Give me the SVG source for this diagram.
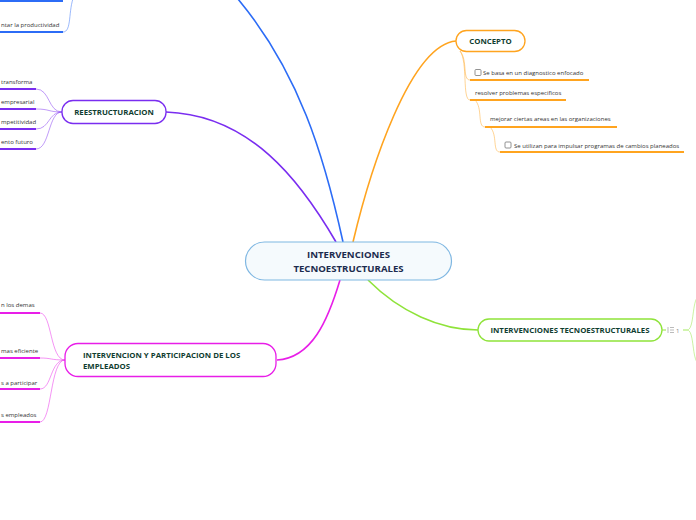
<svg xmlns="http://www.w3.org/2000/svg" width="696" height="520" viewBox="0 0 696 520">
<style>
.t{font-family:"Open Sans","Noto Sans","Liberation Sans",sans-serif;font-size:6px;fill:#333}
.n{font-family:"Open Sans","Noto Sans","Liberation Sans",sans-serif;font-size:7.8px;font-weight:bold;fill:#0f3d30}
.c{font-family:"Open Sans","Noto Sans","Liberation Sans",sans-serif;font-size:9.6px;font-weight:bold;fill:#1c2b4e}
.bl{stroke:#2c6cf6}
.pu{stroke:#7a2df0}
.or{stroke:#ffa41f}
.mg{stroke:#e81ee8}
.gr{stroke:#8fe33a}
.main{fill:none;stroke-width:1.6}
.thin{fill:none;stroke-width:0.8;opacity:0.6}
.ul{fill:none;stroke-width:1.8}
.box{fill:none;stroke:#777;stroke-width:0.8}
</style>
<rect width="696" height="520" fill="#fff"/>
<g id="connectors">
  <path class="main bl" d="M343,242 C325,160 300,70 232,-8"/>
  <path class="main pu" d="M166,112 C250,115 300,180 336,242"/>
  <path class="main or" d="M353,242 C370,170 410,45 456,41"/>
  <path class="main mg" d="M340,280 C328,320 312,358 277,360"/>
  <path class="main gr" d="M368,280 C400,312 440,330 478,330"/>
  <path class="thin bl" d="M63,32 C72,32 68,10 74,-4"/>
  <path class="thin pu" d="M36,89 C50,89 48,112 62,112"/>
  <path class="thin pu" d="M36,109 C50,109 48,112 62,112"/>
  <path class="thin pu" d="M36,129 C50,129 48,112 62,112"/>
  <path class="thin pu" d="M36,149 C50,149 48,112 62,112"/>
  <path class="thin mg" d="M40,313 C52,313 50,360 65,360"/>
  <path class="thin mg" d="M40,358 C52,358 50,360 65,360"/>
  <path class="thin mg" d="M40,389 C52,389 50,360 65,360"/>
  <path class="thin mg" d="M40,422 C52,422 50,360 65,360"/>
  <path class="thin or" d="M460,51 C468,60 462,80 470,80"/>
  <path class="thin or" d="M460,51 C468,62 462,100 470,100"/>
  <path class="thin or" d="M475,100 C483,108 477,127 485,127"/>
  <path class="thin or" d="M490,127 C498,135 492,152 500,152"/>
  <path class="thin gr" d="M683,330 L687,330 C694,330 692,305 697,298"/>
  <path class="thin gr" d="M683,330 L687,330 C694,330 692,355 697,362"/>
  <path class="gr" d="M662,330 L666,330" stroke-width="1"/>
</g>
<g id="central">
  <rect x="245.5" y="242" width="206" height="38" rx="19" fill="#f5fafd" stroke="#7fb7e2" stroke-width="1.2"/>
  <text class="c" x="348.5" y="258" text-anchor="middle">INTERVENCIONES</text>
  <text class="c" x="348.5" y="272" text-anchor="middle">TECNOESTRUCTURALES</text>
</g>
<g id="top-branch">
  <path class="ul bl" d="M0,1 H63"/>
  <text class="t" x="1" y="27">ntar la productividad</text>
  <path class="ul bl" d="M0,32 H63"/>
</g>
<g id="reestructuracion">
  <rect x="62" y="100.5" width="104" height="23" rx="11" fill="#fff" stroke="#7a2df0" stroke-width="1.3"/>
  <text class="n" x="114" y="115" text-anchor="middle">REESTRUCTURACION</text>
</g>
<g id="reest-children">
  <text class="t" x="1" y="84">transforma</text>
  <path class="ul pu" d="M0,89 H36"/>
  <text class="t" x="1" y="104">empresarial</text>
  <path class="ul pu" d="M0,109 H36"/>
  <text class="t" x="1" y="124">mpetitividad</text>
  <path class="ul pu" d="M0,129 H36"/>
  <text class="t" x="1" y="144">ento futuro</text>
  <path class="ul pu" d="M0,149 H36"/>
</g>
<g id="concepto">
  <rect x="456" y="30.5" width="69" height="21" rx="10.5" fill="#fff" stroke="#ffa41f" stroke-width="1.3"/>
  <text class="n" x="490.5" y="44" text-anchor="middle">CONCEPTO</text>
</g>
<g id="concepto-children">
  <rect class="box" x="475" y="69.5" width="6" height="6" rx="1"/>
  <text class="t" x="483" y="75">Se basa en un diagnostico enfocado</text>
  <path class="ul or" d="M470,80 H589"/>
  <text class="t" x="475" y="95">resolver problemas especificos</text>
  <path class="ul or" d="M470,100 H566"/>
  <text class="t" x="490" y="121">mejorar ciertas areas en las organizaciones</text>
  <path class="ul or" d="M485,127 H617"/>
  <rect class="box" x="505" y="142" width="6" height="6" rx="1"/>
  <text class="t" x="514" y="148">Se utilizan para impulsar programas de cambios planeados</text>
  <path class="ul or" d="M500,152 H684"/>
</g>
<g id="tecno">
  <rect x="478" y="319" width="184" height="22" rx="11" fill="#fff" stroke="#8fe33a" stroke-width="1.3"/>
  <text class="n" x="570" y="333" text-anchor="middle">INTERVENCIONES TECNOESTRUCTURALES</text>
  <g stroke="#aaa" stroke-width="0.8">
    <path d="M668,327 V333"/>
    <path d="M670,327.5 H674 M670,330 H674 M670,332.5 H674"/>
  </g>
  <text class="t" x="676" y="332.5" style="fill:#888">1</text>
</g>
<g id="participacion">
  <rect x="65" y="343.5" width="211" height="33" rx="13" fill="#fff" stroke="#e81ee8" stroke-width="1.3"/>
  <text class="n" x="83" y="358">INTERVENCION Y PARTICIPACION DE LOS</text>
  <text class="n" x="83" y="369">EMPLEADOS</text>
</g>
<g id="participacion-children">
  <text class="t" x="1" y="307">n los demas</text>
  <path class="ul mg" d="M0,313 H40"/>
  <text class="t" x="1" y="353">mas eficiente</text>
  <path class="ul mg" d="M0,358 H40"/>
  <text class="t" x="1" y="385">s a participar</text>
  <path class="ul mg" d="M0,389 H40"/>
  <text class="t" x="1" y="417">s empleados</text>
  <path class="ul mg" d="M0,422 H40"/>
</g>
</svg>
